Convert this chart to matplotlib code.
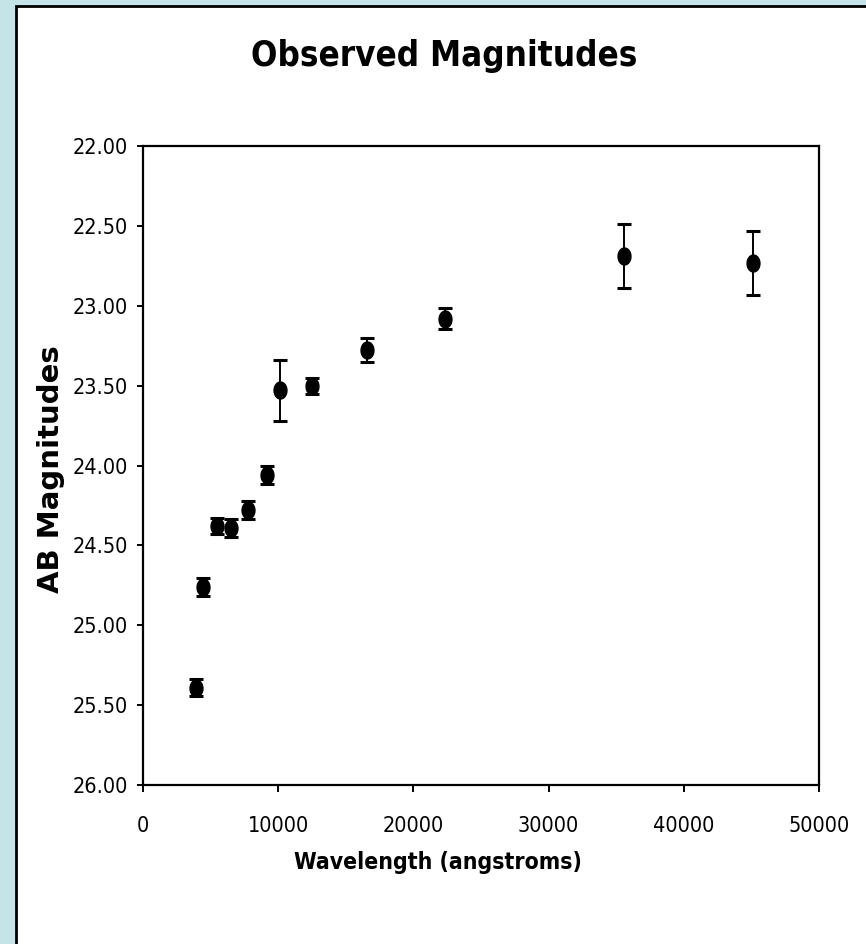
import numpy as np
import matplotlib
matplotlib.use("Agg")
import matplotlib.pyplot as plt
from matplotlib.path import Path
from matplotlib.patches import Rectangle
from matplotlib.ticker import FormatStrFormatter, MultipleLocator

# ---- data ----
wavelength = [3900, 4450, 5470, 6500, 7770, 9170, 10130, 12500, 16570, 22340, 35580, 45120]
ab_mag = [25.39, 24.76, 24.38, 24.39, 24.28, 24.06, 23.53, 23.50, 23.28, 23.08, 22.69, 22.73]
mag_err = [0.055, 0.055, 0.05, 0.055, 0.055, 0.055, 0.19, 0.05, 0.075, 0.065, 0.20, 0.20]

title = "Observed Magnitudes"
xlabel = "Wavelength (angstroms)"
ylabel = "AB Magnitudes"

plt.rcParams["font.family"] = ["DejaVu Sans"]
plt.rcParams["font.stretch"] = "condensed"

W, H = 866, 944
fig = plt.figure(figsize=(W / 100, H / 100), dpi=100)
fig.patch.set_facecolor("#c4e4e8")

# white panel with black border (extends beyond right/bottom edges)
panel = Rectangle((16 / W, -0.05), 1.2, 1 - 6 / H + 0.05, transform=fig.transFigure,
                  facecolor="white", edgecolor="black", linewidth=2.0, zorder=-10)
fig.patches.append(panel)

ax = fig.add_axes([143 / W, 1 - 785 / H, (819 - 143) / W, (785 - 146) / H])
ax.set_facecolor("white")
ax.set_zorder(5)

# tall ellipse marker
t = np.linspace(0, 2 * np.pi, 60)
ell = Path(np.column_stack([0.38 * np.cos(t), 0.5 * np.sin(t)]), closed=True)

ax.errorbar(wavelength, ab_mag, yerr=mag_err, fmt="none", ecolor="black",
            elinewidth=1.4, capsize=5, capthick=2.2, zorder=2)
ax.plot(wavelength, ab_mag, linestyle="none", marker=ell, markersize=12.2,
        color="black", zorder=3)

ax.set_xlim(0, 50000)
ax.set_ylim(26, 22)
ax.xaxis.set_major_locator(MultipleLocator(10000))
ax.yaxis.set_major_locator(MultipleLocator(0.5))
ax.yaxis.set_major_formatter(FormatStrFormatter("%.2f"))

for s in ax.spines.values():
    s.set_linewidth(1.6)
    s.set_color("black")

ax.tick_params(axis="both", direction="out", width=1.4, color="black",
               labelsize=15.5)
ax.tick_params(axis="x", length=5, pad=17)
ax.tick_params(axis="y", length=4, pad=7)

fig.text(444 / W, 1 - 56 / H, title, ha="center", va="center",
         fontstretch="condensed", fontweight="bold", fontsize=25)
fig.text(438 / W, 1 - 862 / H, xlabel, ha="center", va="center",
         fontstretch="condensed", fontweight="bold", fontsize=16.5)
fig.text(51 / W, 1 - 469 / H, ylabel, ha="center", va="center", rotation=90,
         fontstretch="normal", fontweight="bold", fontsize=21)

fig.savefig("out.png", dpi=100, facecolor=fig.get_facecolor())
